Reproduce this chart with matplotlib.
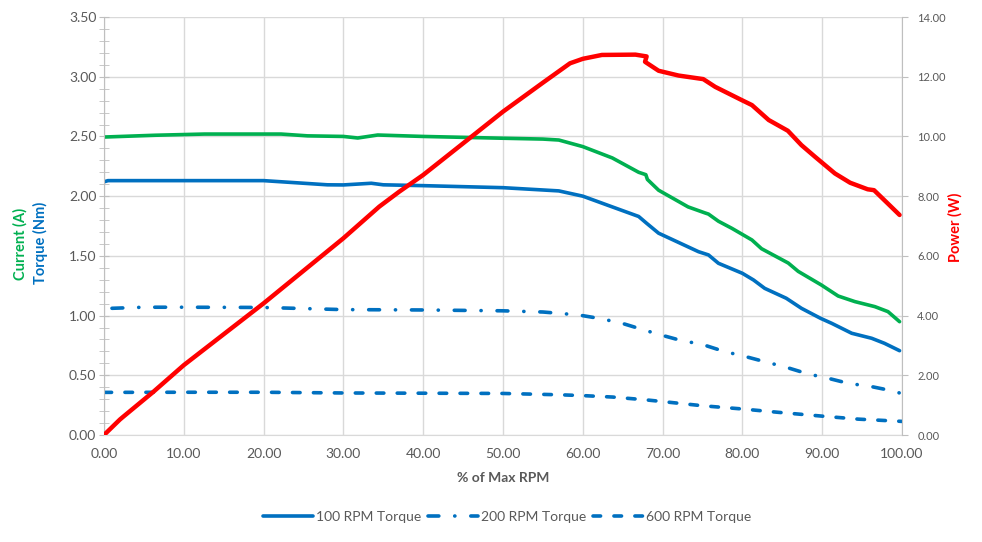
import matplotlib
matplotlib.use("Agg")
import matplotlib.pyplot as plt
from matplotlib.ticker import MultipleLocator, FormatStrFormatter

plt.rcParams['font.family'] = ['Lato', 'DejaVu Sans']

# --- data ---
power_x = [0, 2, 2.4, 6.2, 10, 20, 30, 34.5, 37, 40, 46, 50, 55, 58.4, 60, 62.4,
           66.6, 68.0, 67.8, 69.5, 72, 75.1, 76.6, 79.9, 81.2, 83.3, 85.7, 87.4,
           89.1, 91.6, 93.5, 95.7, 96.5, 98.2, 99.7]
power_w = [0, 0.52, 0.61, 1.45, 2.34, 4.41, 6.59, 7.65, 8.15, 8.71, 9.98, 10.83,
           11.8, 12.45, 12.6, 12.73, 12.74, 12.68, 12.5, 12.2, 12.04, 11.92, 11.66,
           11.22, 11.05, 10.55, 10.19, 9.71, 9.32, 8.76, 8.45, 8.23, 8.2, 7.76, 7.37]

current_x = [0, 6.4, 12.6, 22.2, 25.5, 30, 31.8, 34.3, 40, 50, 55, 57, 60, 63.7,
             67, 67.9, 68.1, 69.5, 73.2, 75.3, 75.75, 77, 78.7, 81.2, 82.4, 85.75,
             87, 89.9, 92, 94.1, 96.6, 98.25, 99.7]
current_a = [2.495, 2.51, 2.52, 2.52, 2.505, 2.50, 2.487, 2.512, 2.50, 2.485, 2.478,
             2.47, 2.415, 2.32, 2.2, 2.18, 2.14, 2.05, 1.91, 1.86, 1.85, 1.79, 1.73,
             1.633, 1.56, 1.44, 1.37, 1.256, 1.164, 1.117, 1.075, 1.033, 0.949]

t100_x = [0, 0.5, 20, 23.9, 28, 30, 33.5, 35, 40, 50, 57, 60, 63.7, 67, 68, 69.5,
          74.5, 75.75, 77, 80, 81.4, 82.8, 85.5, 87.4, 89.8, 91.2, 93.7, 96.2,
          97.8, 99.7]
t100_nm = [2.12, 2.13, 2.13, 2.113, 2.095, 2.094, 2.108, 2.095, 2.088, 2.071, 2.044,
           2.0, 1.91, 1.83, 1.773, 1.69, 1.535, 1.508, 1.438, 1.354, 1.298, 1.228,
           1.145, 1.061, 0.977, 0.935, 0.852, 0.81, 0.768, 0.706]

t200_x = [1, 5, 10, 20, 30, 40, 50, 55, 57, 59.5, 62, 64.7, 67.4, 69.5, 72.4, 74.9,
          77.8, 80.1, 82.8, 85.5, 88.25, 90.75, 93.25, 96.2, 98.7, 99.8]
t200_nm = [1.061, 1.07, 1.07, 1.068, 1.05, 1.047, 1.04, 1.03, 1.019, 1.005, 0.977,
           0.94, 0.885, 0.843, 0.79, 0.76, 0.698, 0.662, 0.614, 0.567, 0.511, 0.475,
           0.433, 0.405, 0.371, 0.35]

t600_x = [0, 10, 20, 30, 40, 50, 57, 60, 63.7, 67.8, 70, 75, 80, 84.5, 90, 94.5, 100]
t600_nm = [0.357, 0.358, 0.358, 0.352, 0.35, 0.348, 0.337, 0.33, 0.318, 0.295, 0.28,
           0.245, 0.218, 0.19, 0.158, 0.133, 0.114]

GREEN = '#00B050'
BLUE = '#0070C0'
RED = '#FF0000'
GRID = '#D9D9D9'
TXT = '#595959'

fig = plt.figure(figsize=(9.82, 5.42), dpi=100)
ax = fig.add_axes([0.1059, 0.1974, 0.8126, 0.7712])
ax2 = ax.twinx()

lw = 2.6
ax.plot(current_x, current_a, color=GREEN, lw=lw, solid_capstyle='round')
h1, = ax.plot(t100_x, t100_nm, color=BLUE, lw=lw, solid_capstyle='round',
              label='100 RPM Torque')
h2, = ax.plot(t200_x, t200_nm, color=BLUE, lw=lw, dashes=(3.0, 4.4, 0.05, 4.4),
              dash_capstyle='round', label='200 RPM Torque')
h3, = ax.plot(t600_x, t600_nm, color=BLUE, lw=lw, dashes=(2.1, 3.7),
              dash_capstyle='round', label='600 RPM Torque')
ax2.plot(power_x, power_w, color=RED, lw=3.2, solid_capstyle='round')

# axes ranges / ticks
ax.set_xlim(0, 100)
ax.set_ylim(0, 3.5)
ax2.set_ylim(0, 14)
ax.xaxis.set_major_locator(MultipleLocator(10))
ax.yaxis.set_major_locator(MultipleLocator(0.5))
ax.yaxis.set_minor_locator(MultipleLocator(0.1))
ax2.yaxis.set_major_locator(MultipleLocator(2))
for a in (ax.xaxis, ax.yaxis, ax2.yaxis):
    a.set_major_formatter(FormatStrFormatter('%.2f'))

ax.grid(True, which='major', color=GRID, lw=1)
ax.set_axisbelow(True)

for s in ('top', 'right'):
    ax.spines[s].set_visible(False)
ax.spines['left'].set_color('#BFBFBF')
ax.spines['bottom'].set_color('#D9D9D9')
ax2.spines['top'].set_visible(False)
ax2.spines['left'].set_visible(False)
ax2.spines['bottom'].set_visible(False)
ax2.spines['right'].set_color('#BFBFBF')

ax.tick_params(axis='x', length=0, pad=9, labelsize=10, labelcolor=TXT)
ax.tick_params(axis='y', which='both', direction='inout', length=7, color='#BFBFBF',
               labelsize=10, labelcolor=TXT, pad=2)
ax2.tick_params(axis='y', direction='out', length=4, color='#BFBFBF',
                labelsize=8, labelcolor=TXT, pad=7)

# axis titles
fig.text(20 / 982, 1 - 244 / 542, 'Current (A)', rotation=90, color=GREEN,
         fontweight='bold', fontsize=10.5, ha='center', va='center')
fig.text(40 / 982, 1 - 243 / 542, 'Torque (Nm)', rotation=90, color=BLUE,
         fontweight='bold', fontsize=10.5, ha='center', va='center')
fig.text(955 / 982, 1 - 227 / 542, 'Power (W)', rotation=90, color=RED,
         fontweight='bold', fontsize=10.5, ha='center', va='center')
fig.text(503 / 982, 1 - 478 / 542, '% of Max RPM', color=TXT,
         fontweight='bold', fontsize=10, ha='center', va='center')

leg = fig.legend(handles=[h1, h2, h3], loc='center', ncol=3,
                 bbox_to_anchor=(507 / 982, 1 - 517 / 542), frameon=False,
                 fontsize=10, handlelength=3.6, handletextpad=0.2, columnspacing=0.5)
for t in leg.get_texts():
    t.set_color(TXT)

fig.savefig('out.png', dpi=100)
